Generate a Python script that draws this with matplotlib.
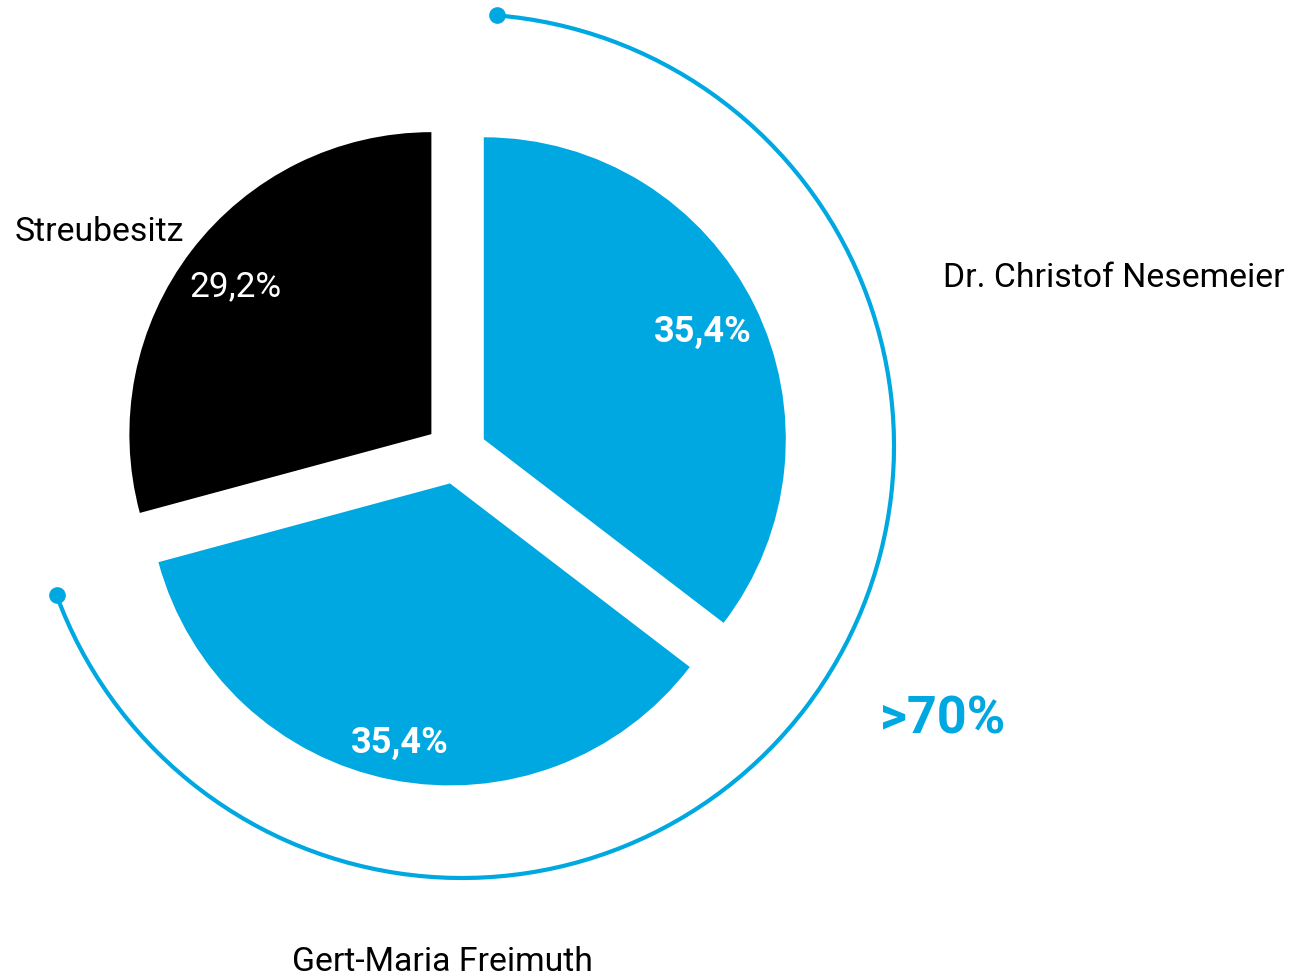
import matplotlib
matplotlib.use("Agg")
import numpy as np
from matplotlib import pyplot as plt
from matplotlib.patches import Arc

# Anteile am Grundkapital
namen = ["Dr. Christof Nesemeier", "Gert-Maria Freimuth", "Streubesitz"]
anteile = [35.4, 35.4, 29.2]
farben = ["#00a8e1", "#00a8e1", "#000000"]
gesamt_text = ">70%"

BLAU = "#00a8e1"
W, H = 1297, 979


def prozent(v):
    return f"{v:.1f}".replace(".", ",") + "%"


def main():
    plt.rcParams["font.family"] = ["Roboto", "DejaVu Sans"]
    fig = plt.figure(figsize=(W / 100, H / 100), dpi=100)
    ax = fig.add_axes([0, 0, 1, 1])

    # explode wird hier in Pixeln angegeben (nicht relativ zum Radius)
    ax.pie(anteile, colors=farben, explode=[31, 31, 31], radius=302,
           center=(456, H - 454), startangle=90, counterclock=False,
           wedgeprops=dict(linewidth=0), frame=True)
    ax.set_xlim(0, W)
    ax.set_ylim(0, H)
    ax.set_aspect("equal")
    ax.axis("off")

    # Bogen um die beiden Großaktionäre
    cx, cy, r = 462, H - 447, 432
    ax.add_patch(Arc((cx, cy), 2 * r, 2 * r, theta1=-159.8, theta2=85.3,
                     color=BLAU, lw=3))
    for t in (-159.8, 85.3):
        a = np.radians(t)
        ax.plot(cx + r * np.cos(a), cy + r * np.sin(a), "o", color=BLAU,
                markersize=11)

    # Prozentwerte in den Segmenten
    ax.text(703, H - 332, prozent(anteile[0]), color="white", fontsize=26,
            fontweight="bold", ha="center", va="center")
    ax.text(400, H - 743, prozent(anteile[1]), color="white", fontsize=26,
            fontweight="bold", ha="center", va="center")
    ax.text(235, H - 287, prozent(anteile[2]), color="white", fontsize=25.4,
            ha="center", va="center")

    # Namen
    ax.text(943, H - 278, namen[0], fontsize=24.3, ha="left", va="center")
    ax.text(442, H - 962, namen[1], fontsize=24.3, ha="center", va="center")
    ax.text(15, H - 232, namen[2], fontsize=24.3, ha="left", va="center")

    ax.text(943, H - 719, gesamt_text, color=BLAU, fontsize=37.5,
            fontweight="bold", ha="center", va="center")

    fig.savefig("out.png", dpi=100)


if __name__ == "__main__":
    main()
